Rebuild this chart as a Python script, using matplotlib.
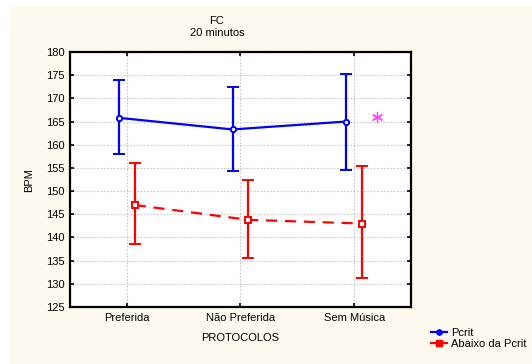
import matplotlib
matplotlib.use("Agg")
import matplotlib.pyplot as plt
from matplotlib.patches import Rectangle
from matplotlib.lines import Line2D
import numpy as np

plt.rcParams['font.family'] = ['Liberation Sans', 'DejaVu Sans']

categories = ["Preferida", "Não Preferida", "Sem Música"]
pcrit_mean = [165.8, 163.3, 165.0]
pcrit_upper = [174.0, 172.5, 175.3]
pcrit_lower = [158.1, 154.3, 154.6]
abaixo_mean = [147.0, 143.8, 143.0]
abaixo_upper = [156.1, 152.3, 155.5]
abaixo_lower = [138.6, 135.6, 131.2]
yticks = list(range(125, 181, 5))
star_pos = (2.2, 166.0)

W, H = 532, 364
fig = plt.figure(figsize=(W / 100, H / 100), dpi=100)
fig.patch.set_facecolor('white')
fig.patches.append(Rectangle((10 / W, 0), 1 - 10 / W, 1 - 6 / H,
                             transform=fig.transFigure, facecolor='#FDF9EE',
                             edgecolor='none', zorder=-10))

ax = fig.add_axes([70 / W, 1 - 307 / H, (411 - 70) / W, (307 - 52) / H])
ax.set_facecolor('white')

x = np.arange(len(categories))
off = 0.07

def draw(xs, mean, lo, hi, color, ls, marker):
    mean = np.array(mean)
    yerr = [mean - np.array(lo), np.array(hi) - mean]
    ax.errorbar(xs, mean, yerr=yerr, color=color, linestyle=ls, linewidth=1.6,
                marker=marker, markersize=3.8, markerfacecolor='white',
                markeredgecolor=color, markeredgewidth=1.4,
                ecolor=color, elinewidth=1.6, capsize=4.3, capthick=1.6,
                dashes=(5, 3.5) if ls == '--' else (None, None), zorder=3)

draw(x - off, pcrit_mean, pcrit_lower, pcrit_upper, '#0000FF', '-', 'o')
draw(x + off, abaixo_mean, abaixo_lower, abaixo_upper, '#FF0000', '--', 's')

ax.set_xlim(-0.5, 2.5)
ax.set_ylim(125, 180)
ax.set_yticks(yticks)
ax.set_xticks(x)
ax.set_xticklabels(categories)
ax.grid(True, color='#C8C8C8', linestyle=(0, (1.5, 1.5)), linewidth=0.8)
ax.set_axisbelow(True)
ax.tick_params(axis='both', direction='in', length=3, width=1.2, labelsize=8,
               top=True, right=True, pad=4, colors='black')
for s in ax.spines.values():
    s.set_linewidth(1.6)
    s.set_color('black')

ax.plot([star_pos[0]], [star_pos[1]], linestyle='none', marker=(6, 2, 0),
        markersize=8, markeredgewidth=0.9, color='#FF44FF', zorder=4)

fig.text(217 / W, 1 - 21 / H, 'FC', ha='center', va='center', fontsize=8)
fig.text(217 / W, 1 - 33 / H, '20 minutos', ha='center', va='center', fontsize=8)
fig.text(29 / W, 1 - 180 / H, 'BPM', ha='center', va='center', fontsize=8, rotation=90)
fig.text(240 / W, 1 - 338 / H, 'PROTOCOLOS', ha='center', va='center', fontsize=8)

h1 = Line2D([], [], color='#0000FF', linewidth=1.6, marker='o', markersize=3.8,
            markerfacecolor='#0000FF', markeredgecolor='#0000FF')
h2 = Line2D([], [], color='#FF0000', linewidth=1.6, marker='s', markersize=3.8,
            markerfacecolor='#FF0000', markeredgecolor='#FF0000')
fig.legend([h1, h2], ['Pcrit', 'Abaixo da Pcrit'], loc='upper left',
           bbox_to_anchor=(425 / W, 1 - 322 / H), frameon=False, fontsize=8,
           handlelength=1.45, handletextpad=0.4, labelspacing=0.1, borderpad=0)

fig.savefig('out.png', dpi=100, facecolor=fig.get_facecolor())
